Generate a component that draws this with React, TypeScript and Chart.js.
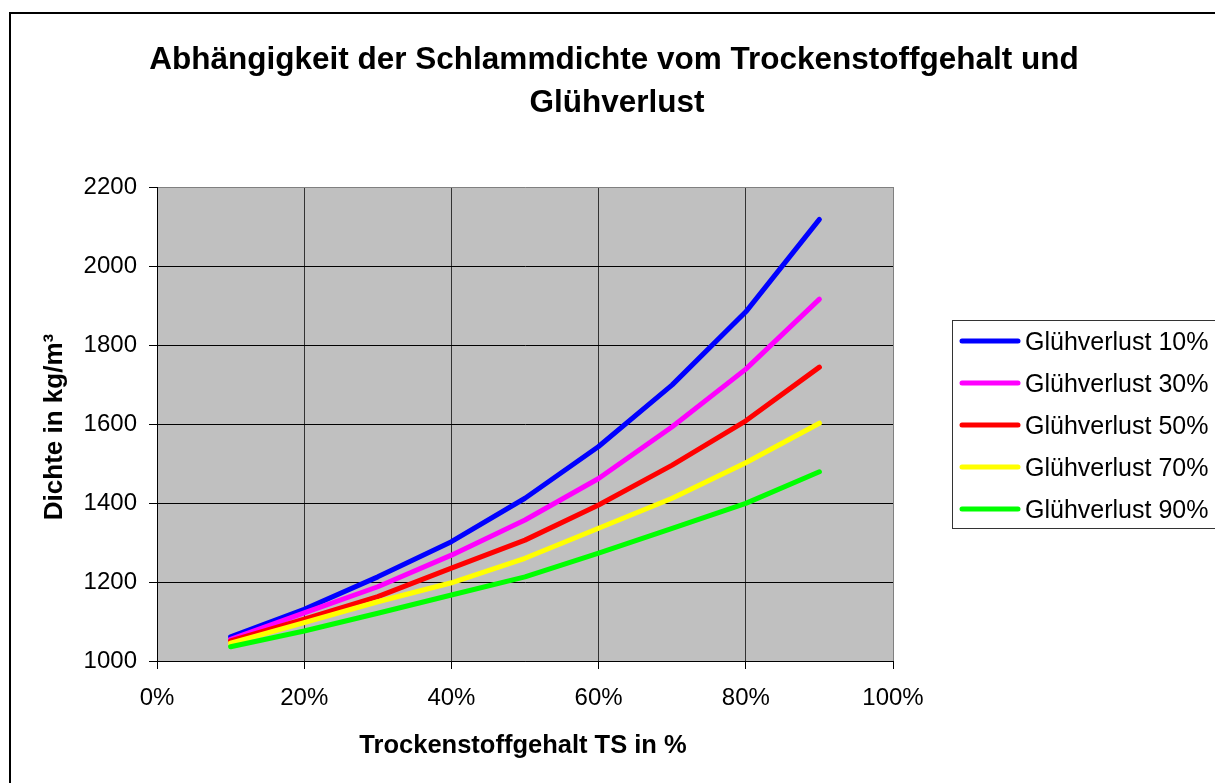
import React, { useEffect, useRef } from "react";
import { Chart, registerables } from "chart.js";

Chart.register(...registerables);

// ---- data ----
const tsPercent = [10, 20, 30, 40, 50, 60, 70, 80, 90];
const seriesNames = [
  "Glühverlust 10%",
  "Glühverlust 30%",
  "Glühverlust 50%",
  "Glühverlust 70%",
  "Glühverlust 90%",
];
const gv10 = [1061, 1131, 1213, 1302, 1412, 1543, 1699, 1884, 2118];
const gv30 = [1055, 1122, 1188, 1268, 1357, 1462, 1593, 1739, 1916];
const gv50 = [1051, 1106, 1163, 1235, 1306, 1395, 1496, 1608, 1744];
const gv70 = [1045, 1097, 1150, 1198, 1260, 1336, 1412, 1502, 1602];
const gv90 = [1036, 1076, 1121, 1167, 1213, 1273, 1336, 1399, 1479];
const seriesColors = ["#0000FF", "#FF00FF", "#FF0000", "#FFFF00", "#00FF00"];
const xTickValues = [0, 20, 40, 60, 80, 100];
const yTickValues = [1000, 1200, 1400, 1600, 1800, 2000, 2200];
const titleLines = [
  "Abhängigkeit der Schlammdichte vom Trockenstoffgehalt und",
  "Glühverlust",
];
const xAxisTitle = "Trockenstoffgehalt TS in %";
const yAxisTitle = "Dichte in kg/m³";

const FONT = "'Liberation Sans', Arial, Helvetica, sans-serif";
const W = 1215;
const H = 783;

const allSeries = [gv10, gv30, gv50, gv70, gv90];

const decorPlugin = {
  id: "decor",
  beforeDraw(chart: any) {
    const { ctx, chartArea } = chart;
    ctx.save();
    ctx.fillStyle = "#FFFFFF";
    ctx.fillRect(0, 0, chart.width, chart.height);
    ctx.fillStyle = "#C0C0C0";
    ctx.fillRect(
      chartArea.left,
      chartArea.top,
      chartArea.right - chartArea.left,
      chartArea.bottom - chartArea.top
    );
    ctx.restore();
  },
  afterDraw(chart: any) {
    const { ctx } = chart;
    ctx.save();
    // outer frame
    ctx.strokeStyle = "#000000";
    ctx.lineWidth = 2;
    ctx.strokeRect(10, 13, 1400, 1000);

    // title
    ctx.fillStyle = "#000000";
    ctx.textAlign = "center";
    ctx.textBaseline = "alphabetic";
    ctx.font = `bold 31.5px ${FONT}`;
    ctx.fillText(titleLines[0], 614, 69);
    ctx.fillText(titleLines[1], 617, 112);

    // x axis title
    ctx.font = `bold 25.5px ${FONT}`;
    ctx.fillText(xAxisTitle, 523, 753);

    // y axis title
    ctx.save();
    ctx.translate(62, 427);
    ctx.rotate(-Math.PI / 2);
    ctx.font = `bold 26px ${FONT}`;
    ctx.textAlign = "center";
    ctx.fillText(yAxisTitle, 0, 0);
    ctx.restore();

    // legend
    ctx.strokeStyle = "#333333";
    ctx.lineWidth = 1;
    ctx.strokeRect(952.5, 320.5, 400, 208);
    ctx.font = `25px ${FONT}`;
    ctx.textAlign = "left";
    seriesNames.forEach((name, i) => {
      const y = 341 + i * 42;
      ctx.strokeStyle = seriesColors[i];
      ctx.lineWidth = 5;
      ctx.lineCap = "round";
      ctx.beginPath();
      ctx.moveTo(962, y);
      ctx.lineTo(1018, y);
      ctx.stroke();
      ctx.fillStyle = "#000000";
      ctx.fillText(name, 1025, y + 8.5);
    });
    ctx.restore();
  },
};

export default function App() {
  const canvasRef = useRef<HTMLCanvasElement | null>(null);

  useEffect(() => {
    const canvas = canvasRef.current;
    if (!canvas) return;
    const datasets = seriesNames.map((name, i) => ({
      label: name,
      data: tsPercent.map((x, j) => ({ x, y: allSeries[i][j] })),
      borderColor: seriesColors[i],
      backgroundColor: seriesColors[i],
      borderWidth: 5,
      pointRadius: 0,
      pointHoverRadius: 0,
      tension: 0,
      fill: false,
      borderCapStyle: "round" as const,
      borderJoinStyle: "round" as const,
      order: seriesNames.length - i,
    }));

    const chart = new Chart(canvas, {
      type: "line",
      data: { datasets },
      options: {
        animation: false,
        responsive: false,
        devicePixelRatio: 1,
        layout: { padding: { top: 187, right: 322, bottom: 0, left: 0 } },
        plugins: {
          legend: { display: false },
          title: { display: false },
          tooltip: { enabled: false },
        },
        scales: {
          x: {
            type: "linear",
            min: 0,
            max: 100,
            afterFit: (s: any) => {
              s.height = 122;
            },
            afterBuildTicks: (s: any) => {
              s.ticks = xTickValues.map((v) => ({ value: v }));
            },
            ticks: {
              color: "#000000",
              padding: 15,
              maxRotation: 0,
              font: { size: 24, family: FONT },
              callback: (v: any) => `${v}%`,
            },
            grid: {
              color: (c: any) => (c.tick && c.tick.value === 100 ? "#808080" : "#333333"),
              lineWidth: 1,
              drawTicks: true,
              tickLength: 8,
              tickColor: "#000000",
            },
            border: { display: true, color: "#000000", width: 1 },
          },
          y: {
            type: "linear",
            min: 1000,
            max: 2200,
            afterFit: (s: any) => {
              s.width = 157;
            },
            afterBuildTicks: (s: any) => {
              s.ticks = yTickValues.map((v) => ({ value: v }));
            },
            ticks: {
              color: "#000000",
              padding: 12,
              font: { size: 24, family: FONT },
              callback: (v: any) => String(v),
            },
            grid: {
              color: (c: any) => (c.tick && c.tick.value === 2200 ? "#808080" : "#000000"),
              lineWidth: 1,
              drawTicks: true,
              tickLength: 8,
              tickColor: "#000000",
            },
            border: { display: true, color: "#000000", width: 1 },
          },
        },
      },
      plugins: [decorPlugin],
    });
    return () => chart.destroy();
  }, []);

  return (
    <div style={{ position: "absolute", left: 0, top: 0, width: W, height: H, background: "#fff" }}>
      <canvas ref={canvasRef} width={W} height={H} style={{ display: "block", width: W, height: H }} />
    </div>
  );
}
